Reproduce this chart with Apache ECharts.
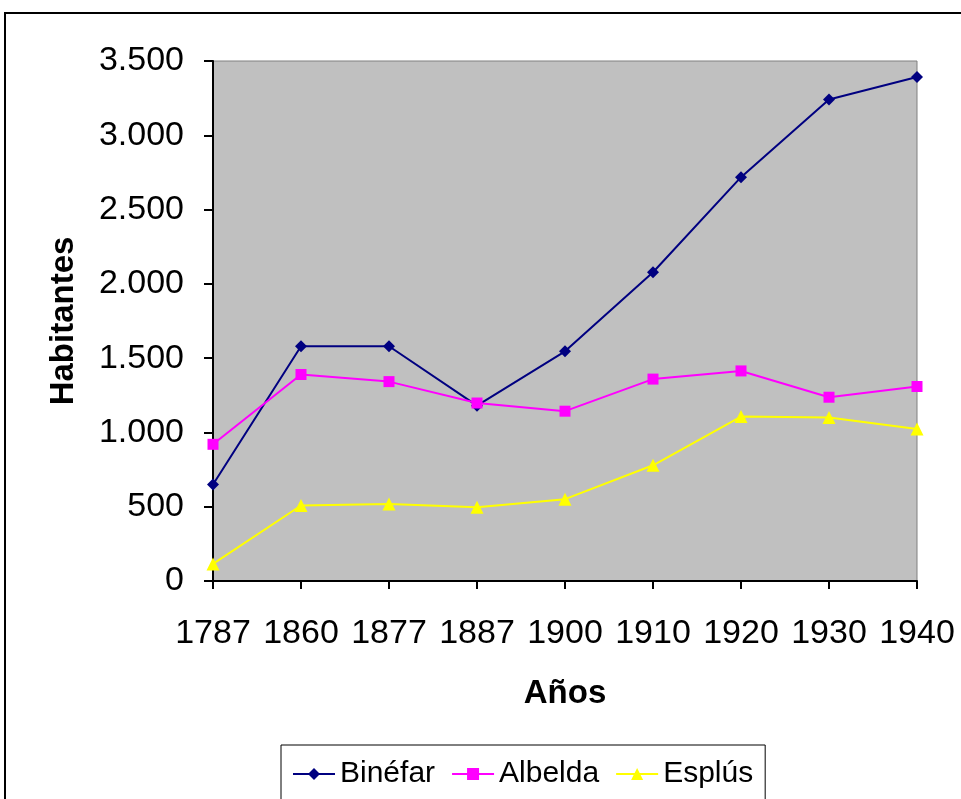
<!DOCTYPE html>
<html>
<head>
<meta charset="utf-8">
<script src="https://cdn.jsdelivr.net/npm/echarts@6/dist/echarts.min.js"></script>
<style>
  html, body { margin: 0; padding: 0; background: #fff; }
  #chart { width: 961px; height: 799px; }
</style>
</head>
<body>
<div id="chart"></div>
<script>
// datos
var years = ['1787', '1860', '1877', '1887', '1900', '1910', '1920', '1930', '1940'];
var binefar = [650, 1580, 1580, 1180, 1546, 2078, 2718, 3241, 3392];
var albelda = [920, 1390, 1342, 1198, 1143, 1359, 1414, 1237, 1309];
var esplus = [115, 508, 518, 496, 551, 779, 1107, 1100, 1023];

var fontName = '"Liberation Sans", Arial, sans-serif';

function miles(v) {
  return String(v).replace(/\B(?=(\d{3})+(?!\d))/g, '.');
}

var chart = echarts.init(document.getElementById('chart'));
chart.setOption({
  animation: false,
  backgroundColor: '#ffffff',
  textStyle: { fontFamily: fontName },
  graphic: [
    {
      type: 'rect',
      shape: { x: 5, y: 13, width: 1000, height: 1000 },
      style: { fill: 'none', stroke: '#000', lineWidth: 2 },
      silent: true
    }
  ],
  grid: {
    left: 213,
    right: 44,
    top: 61,
    bottom: 218,
    show: true,
    backgroundColor: '#C0C0C0',
    borderColor: '#808080',
    borderWidth: 1
  },
  legend: {
    left: 281,
    top: 745,
    orient: 'horizontal',
    padding: [14, 12, 14, 11],
    itemGap: 16,
    itemWidth: 42,
    itemHeight: 15,
    borderColor: '#000',
    borderWidth: 1,
    textStyle: { fontSize: 30, color: '#000', fontFamily: fontName },
    data: ['Binéfar', 'Albelda', 'Esplús']
  },
  xAxis: {
    type: 'category',
    data: years,
    boundaryGap: false,
    name: 'Años',
    nameLocation: 'middle',
    nameGap: 96,
    nameTextStyle: { fontSize: 33, fontWeight: 'bold', color: '#000', fontFamily: fontName },
    axisLine: { lineStyle: { color: '#000', width: 2 } },
    axisTick: { show: true, length: 8, interval: 0, lineStyle: { color: '#000', width: 2 } },
    axisLabel: { fontSize: 34, color: '#000', margin: 36, interval: 0, fontFamily: fontName },
    splitLine: { show: false }
  },
  yAxis: {
    type: 'value',
    min: 0,
    max: 3500,
    interval: 500,
    name: 'Habitantes',
    nameLocation: 'middle',
    nameGap: 133,
    nameTextStyle: { fontSize: 33, fontWeight: 'bold', color: '#000', fontFamily: fontName },
    axisLine: { show: true, lineStyle: { color: '#000', width: 2 } },
    axisTick: { show: true, length: 9, lineStyle: { color: '#000', width: 2 } },
    axisLabel: {
      fontSize: 34,
      color: '#000',
      margin: 29,
      fontFamily: fontName,
      formatter: function (v) { return miles(v); }
    },
    splitLine: { show: false }
  },
  series: [
    {
      name: 'Binéfar',
      type: 'line',
      data: binefar,
      symbol: 'diamond',
      symbolSize: 12,
      itemStyle: { color: '#000080' },
      lineStyle: { color: '#000080', width: 2 }
    },
    {
      name: 'Albelda',
      type: 'line',
      data: albelda,
      symbol: 'rect',
      symbolSize: 11,
      itemStyle: { color: '#FF00FF' },
      lineStyle: { color: '#FF00FF', width: 2 }
    },
    {
      name: 'Esplús',
      type: 'line',
      data: esplus,
      symbol: 'triangle',
      symbolSize: 13,
      itemStyle: { color: '#FFFF00' },
      lineStyle: { color: '#FFFF00', width: 2 }
    }
  ]
});
</script>
</body>
</html>
